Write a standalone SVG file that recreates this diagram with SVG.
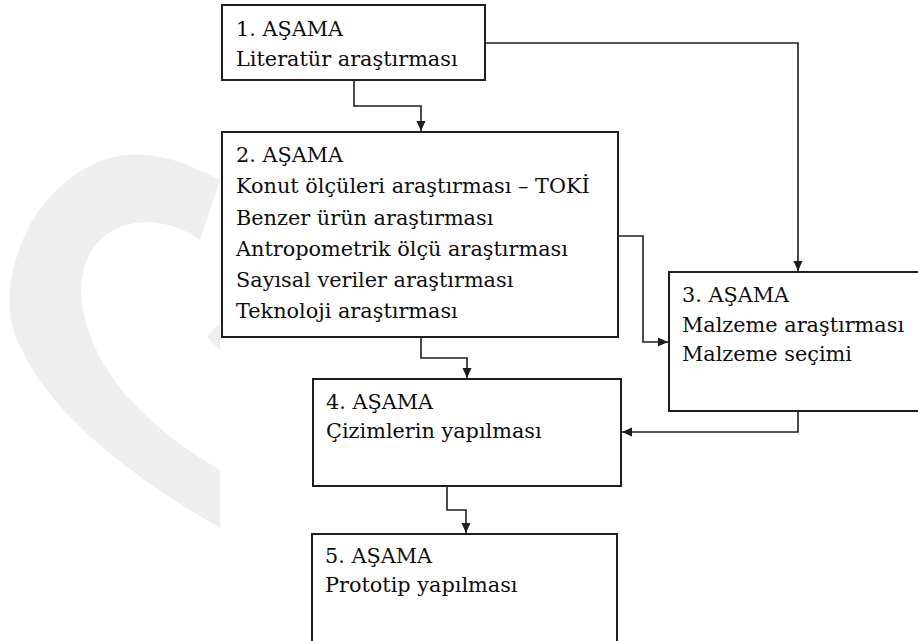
<svg xmlns="http://www.w3.org/2000/svg" width="918" height="641" viewBox="0 0 918 641">
<defs>
<style>
.box{fill:#ffffff;stroke:#1e1e1e;stroke-width:2}
.con{fill:none;stroke:#1e1e1e;stroke-width:1.6}
.t{font-family:"DejaVu Serif","Liberation Serif",serif;font-size:20.8px;fill:#0d0d0d}
.wm{fill:#eeeeee}
</style>
<marker id="ah" viewBox="0 0 10 10" refX="10" refY="5" markerWidth="10" markerHeight="10" markerUnits="userSpaceOnUse" orient="auto">
<path d="M0,0.5 L10,5 L0,9.5 z" fill="#1e1e1e"/>
</marker>
</defs>
<rect width="918" height="641" fill="#ffffff"/>
<g id="watermark">
<path class="wm" d="M220 180 C185 162 160 153 127 155 C90 157 45 190 25 235 C5 280 5 320 22 350 C50 410 120 470 220 528 L220 470 C160 435 110 390 90 335 C75 295 80 260 100 240 C125 215 170 218 200 240 Z"/>
<path class="wm" d="M207 337 L220 323 L220 350 Z"/>
</g>
<g id="connectors">
<path class="con" d="M354 80 V106 H421 V131" marker-end="url(#ah)"/>
<path class="con" d="M485 43 H798 V271" marker-end="url(#ah)"/>
<path class="con" d="M618 236 H643 V342 H668" marker-end="url(#ah)"/>
<path class="con" d="M421 337 V358 H467 V378" marker-end="url(#ah)"/>
<path class="con" d="M798 411 V432 H622" marker-end="url(#ah)"/>
<path class="con" d="M447 486 V510 H466 V533" marker-end="url(#ah)"/>
</g>
<g id="node1">
<rect class="box" x="222" y="5" width="263" height="75"/>
<text class="t" x="236" y="36">1. AŞAMA</text>
<text class="t" x="236" y="66">Literatür araştırması</text>
</g>
<g id="node2">
<rect class="box" x="222" y="132" width="396" height="205"/>
<text class="t" x="236" y="162">2. AŞAMA</text>
<text class="t" x="236" y="193">Konut ölçüleri araştırması – TOKİ</text>
<text class="t" x="236" y="224.5">Benzer ürün araştırması</text>
<text class="t" x="236" y="256">Antropometrik ölçü araştırması</text>
<text class="t" x="236" y="287">Sayısal veriler araştırması</text>
<text class="t" x="236" y="318">Teknoloji araştırması</text>
</g>
<g id="node3">
<rect class="box" x="669" y="272" width="260" height="139"/>
<text class="t" x="682" y="302">3. AŞAMA</text>
<text class="t" x="682" y="332">Malzeme araştırması</text>
<text class="t" x="682" y="361">Malzeme seçimi</text>
</g>
<g id="node4">
<rect class="box" x="313" y="379" width="308" height="107"/>
<text class="t" x="326" y="409">4. AŞAMA</text>
<text class="t" x="326" y="438">Çizimlerin yapılması</text>
</g>
<g id="node5">
<rect class="box" x="312" y="534" width="305" height="110"/>
<text class="t" x="325" y="563">5. AŞAMA</text>
<text class="t" x="325" y="592">Prototip yapılması</text>
</g>
</svg>
